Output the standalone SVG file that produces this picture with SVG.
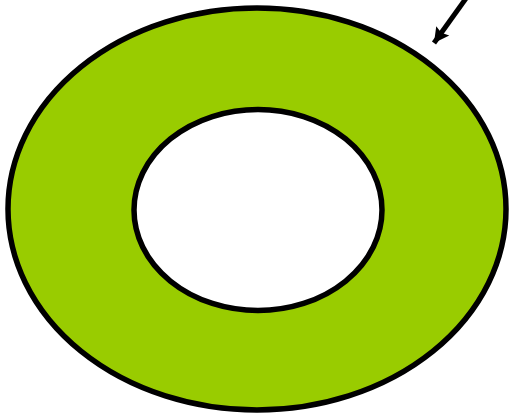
<svg xmlns="http://www.w3.org/2000/svg" width="509" height="416" viewBox="0 0 509 416">
<style>
.ring{stroke:#000;stroke-width:5.5}
.conn{stroke:#000;stroke-width:5;fill:none}
</style>
<defs>
<marker id="ah" markerWidth="4" markerHeight="4" refX="3" refY="1.6" orient="auto" markerUnits="strokeWidth" overflow="visible">
<path d="M0,0 L3,1.6 L0,3.2 L0.5,1.6 Z" fill="#000"/>
</marker>
</defs>
<rect width="509" height="416" fill="#fff"/>
<g id="outer">
<ellipse class="ring" cx="257" cy="209" rx="249" ry="201" fill="#99CC00"/>
</g>
<g id="inner">
<ellipse class="ring" cx="258" cy="210" rx="124" ry="100.5" fill="#fff"/>
</g>
<g id="connectors">
<line class="conn" x1="467" y1="-3" x2="434" y2="43" marker-end="url(#ah)"/>
</g>
</svg>
